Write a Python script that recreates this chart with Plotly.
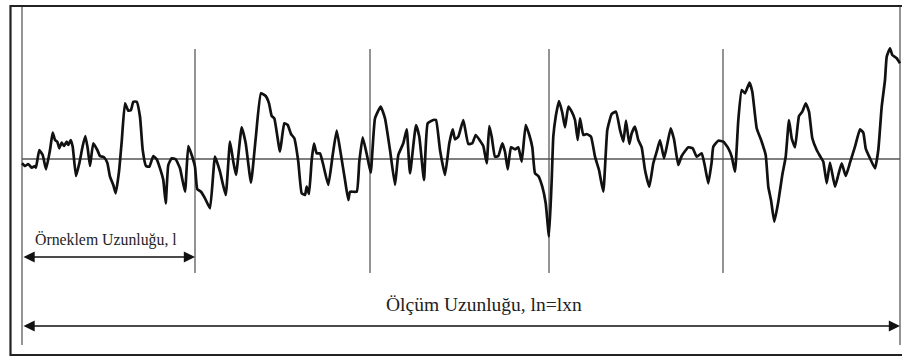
import plotly.graph_objects as go

# Surface profile: position along measuring length and height relative to mean line
profile_x = [0, 3, 6.3, 9.7, 13, 14, 17.3, 20.7, 24, 28, 30.7, 33, 35.3, 37.3, 39.7, 42, 44.7, 46.3, 48.7, 50.7,
             54, 57.3, 60.7, 63.3, 65.7, 68, 71.3, 75.3, 78, 82, 85.3, 88, 91.3, 93.7, 97, 99.7, 103, 106.3, 109,
             111.3, 114.7, 118, 120.7, 124, 127.3, 131.3, 134.7, 138, 141.3, 143.7, 146.3, 149.7, 153.7, 158, 163,
             166.3, 169.7, 173, 175.3, 179, 183, 188, 193, 198, 203.7, 208, 211.3, 214, 219.7, 223.7, 229, 233.7,
             239, 243.7, 247, 249.7, 252.3, 258, 262.3, 265.7, 269, 272.3, 276.3, 279.7, 283, 284.7, 287, 289.7,
             292, 294.7, 298, 301.3, 306.3, 310.7, 314.7, 318.7, 323, 326.3, 328, 334.7, 337.3, 340.7, 345.3,
             348.7, 353, 358.7, 363, 368, 373, 376.3, 381.3, 384.7, 388, 394, 397.3, 402, 405.7, 411.3, 414, 418,
             423, 427.3, 430.7, 433, 436.3, 441.3, 446.3, 450.3, 453.7, 458, 461.3, 464.7, 467.3, 469.7, 473,
             476.3, 480.3, 483, 485.7, 489, 493, 496.3, 499.7, 503.7, 507, 510.3, 513, 516.3, 520.3, 523.7, 527,
             529.7, 531.3, 533.7, 537, 540.3, 543, 546.3, 549.7, 553, 555.7, 558, 561.3, 564.7, 569, 573, 577,
             581.3, 585.3, 589.7, 594, 598, 601.3, 604, 607.3, 609.7, 613, 616.3, 619.7, 623, 627.3, 631.3, 634.7,
             638, 642, 645.3, 648.7, 652, 656.3, 659.7, 666.3, 670.7, 674.7, 679.7, 683, 686.3, 689.7, 691.3,
             696.3, 701.3, 706.3, 709.7, 713, 716.3, 719.7, 723, 727.5, 730.3, 734.7, 739.7, 743.7, 746.3, 749,
             752.3, 756.3, 760.3, 763.7, 767, 769.7, 773, 777, 780.3, 783.7, 787, 790.3, 794.7, 798, 801.3, 804.7,
             808, 813, 816.3, 819.7, 823.7, 828, 833, 838, 841.3, 843.7, 848, 853, 856.3, 859.7, 863, 864.7, 868,
             870.3, 874.7, 878]
profile_h = [-4.3, -7, -5, -8.7, -7, -8.7, 9, 4, -10.3, 9, 26.3, 19, 17.3, 10.7, 16.3, 13, 17.3, 14, 19, 12.3,
             -17, -4.3, 13, 23, 10.7, -7, 15.7, 9, 3, 1.7, -3.7, -17.7, -26, -34.3, -12.7, 17.3, 55.7, 48.3, 49,
             57.3, 57.3, 42.3, 9, -7, -7.7, 3, -0.3, -9.3, -21, -44.3, -6, 0.7, -0.3, -9.3, -32.7,
             13, 4, -7.7, -30.3, -32.7, -39.3, -49.3, 2.3, -12.7, -36, 17.3, -2.7, -16, 31.7, 15.7, -23.7, 20.7,
             65.7, 63, 55.7, 43, 40.7, 7.3, 35.7, 34, 25, 20.7, -2.7, -34.3, -36, -27.7, -35, -1,
             15.3, 5.7, 5.7, -6, -26, 4, 28.3, 5.7, -21, -41, -32.7, -32.7, -2.7, 21.7, 2.3,
             -13.7, 40.7, 52.3, 40.7, 9, -26, 4, 15.7, 29.7, -14.3, 34, 22.3, -21, 35.7, 39, 39, 9,
             -16, 15.7, 29.7, 19.7, 22.3, 39, 15, 15.7, 24, 18.3, 13, -4.3, 33, 22.3, 2.3,
             3, 15.7, 7.3, -10.3, 11.7, 9.7, 11.7, -2.7, 34, 25, 11.7, -14.3, -17, -27.7, -44.3, -77.7,
             -21, 22.3, 42.3, 58, 46.3, 31.7, 52.3, 47.3, 39, 19, 40.7, 24, 25, 22.3, 2.3, -11,
             -32.7, 29, 45, 47.3, 29, 17.3, 38.3, 15, 25.7, 32.3, 19, 11.7, -11, -27.7, -4.3, 7.3,
             19, 0.7, 15, 30.7, 19.7, -6, 3, 11.7, 10.7, 2.3, 5.7, -7.7, -24.3, -2.7, 12.3,
             18.3, 17.3, 10.7, 2.3, -12.7, 39, 69, 65.7, 76.3, 67.3, 30.7, 17.3, 4, -27.7, -41,
             -62.7, -42.7, -16, 2.3, 39, 20.7, 11.7, 43, 47.3, 55.7, 47.3, 20.7, 9, 3, -2.7, -24.3,
             -3.7, -27.7, -16, -4.3, -17, -3.7, 12.3, 29.7, 26.3, 10.7, 0.7, -9.3, 9, 52.3, 79, 102.3, 110.7,
             104, 100.7, 95.7]

# Sampling-length boundaries (n = 5 sections) along the measuring length
boundaries = [0, 173, 348, 527, 701, 878]
inner_dividers = boundaries[1:-1]

sample_label = "Örneklem Uzunluğu, l"
measure_label = "Ölçüm Uzunluğu, ln=lxn"

# vertical extents (height units)
divider_top, divider_bottom = 110, -114
frame_top, frame_bottom = 153, -186
sample_arrow_h, measure_arrow_h = -98, -167
sample_text_h, measure_text_h = -81, -145

fig = go.Figure()

# mean line
fig.add_trace(go.Scatter(x=[boundaries[0], boundaries[-1]], y=[0, 0], mode="lines",
                         line=dict(color="#555555", width=1.5), hoverinfo="skip", showlegend=False))

# profile
fig.add_trace(go.Scatter(x=profile_x, y=profile_h, mode="lines",
                         line=dict(color="#111111", width=2.7, shape="spline", smoothing=0.4),
                         hoverinfo="skip", showlegend=False))

shapes = []
for b in inner_dividers:
    shapes.append(dict(type="line", xref="x", yref="y", x0=b, x1=b, y0=divider_bottom, y1=divider_top,
                       line=dict(color="#5a5a5a", width=1.3), layer="below"))
for b in (boundaries[0], boundaries[-1]):
    shapes.append(dict(type="line", xref="x", yref="y", x0=b, x1=b, y0=frame_bottom, y1=frame_top,
                       line=dict(color="#7a7a7a", width=1.6), layer="below"))
# outer frame
shapes.append(dict(type="rect", xref="paper", yref="paper", x0=10.5 / 902, x1=1.01,
                   y0=1 - 355 / 358, y1=1 - 6 / 358,
                   line=dict(color="#222222", width=2.2), fillcolor="rgba(0,0,0,0)"))

annotations = []
for (x0, x1, h) in [(boundaries[0], boundaries[1], sample_arrow_h),
                    (boundaries[0], boundaries[-1], measure_arrow_h)]:
    annotations.append(dict(x=x1, y=h, ax=x0, ay=h, xref="x", yref="y", axref="x", ayref="y",
                            text="", showarrow=True, arrowhead=2, startarrowhead=2,
                            arrowside="end+start", arrowsize=1.6, startarrowsize=1.6,
                            arrowwidth=1.4, arrowcolor="#111111"))
annotations.append(dict(x=(35 + 177) / 2 - 22, y=sample_text_h, xref="x", yref="y",
                        text=sample_label, showarrow=False,
                        font=dict(family="Liberation Serif", size=15.8, color="#222222")))
annotations.append(dict(x=(385 + 583) / 2 - 22, y=measure_text_h, xref="x", yref="y",
                        text=measure_label, showarrow=False,
                        font=dict(family="Liberation Serif", size=19.5, color="#222222")))

fig.update_layout(
    width=902, height=358,
    margin=dict(l=0, r=0, t=0, b=0),
    paper_bgcolor="white", plot_bgcolor="white",
    xaxis=dict(range=[-22, 880], visible=False, fixedrange=True),
    yaxis=dict(range=[-199, 159], visible=False, fixedrange=True),
    shapes=shapes, annotations=annotations,
    showlegend=False,
)

fig.write_html("out.html")
